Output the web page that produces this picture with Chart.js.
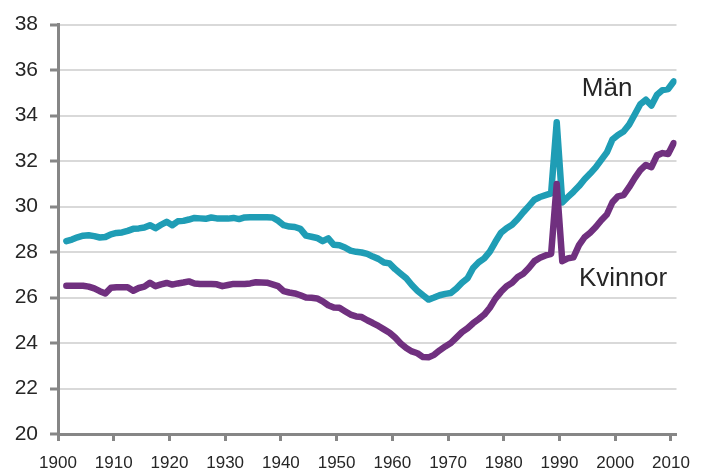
<!DOCTYPE html>
<html>
<head>
<meta charset="utf-8">
<script src="https://cdn.jsdelivr.net/npm/chart.js@4/dist/chart.umd.min.js"></script>
<style>
  html, body { margin: 0; padding: 0; background: #fff; }
  #wrap { width: 702px; height: 472px; }
</style>
</head>
<body>
<div id="wrap"><canvas id="chart" width="702" height="472"></canvas></div>
<script>
const FONT = '"Liberation Sans", Arial, sans-serif';

// yearly mean values 1901-2010
const YEARS = Array.from({ length: 110 }, (_, i) => 1901 + i);
const MAN = [
  28.48, 28.55, 28.65, 28.72, 28.74, 28.70, 28.64, 28.66, 28.78, 28.84,
  28.86, 28.93, 29.02, 29.04, 29.08, 29.18, 29.05, 29.20, 29.33, 29.18,
  29.35, 29.37, 29.43, 29.50, 29.48, 29.46, 29.52, 29.48, 29.47, 29.47,
  29.50, 29.45, 29.52, 29.53, 29.53, 29.53, 29.53, 29.52, 29.38, 29.18,
  29.12, 29.10, 29.02, 28.72, 28.67, 28.62, 28.48, 28.60, 28.32, 28.30,
  28.20, 28.06, 28.01, 27.98, 27.92, 27.80, 27.70, 27.54, 27.50, 27.25,
  27.05, 26.85, 26.55, 26.30, 26.10, 25.91, 26.00, 26.10, 26.16, 26.20,
  26.40, 26.65, 26.85, 27.30, 27.55, 27.72, 28.02, 28.45, 28.85, 29.05,
  29.20, 29.45, 29.75, 30.02, 30.30, 30.42, 30.50, 30.58, 33.71, 30.18,
  30.42, 30.65, 30.90, 31.20, 31.45, 31.72, 32.05, 32.38, 32.95, 33.15,
  33.30, 33.60, 34.05, 34.50, 34.70, 34.44, 34.92, 35.12, 35.17, 35.50
];
const KVINNOR = [
  26.52, 26.52, 26.52, 26.52, 26.48, 26.40, 26.28, 26.18, 26.43, 26.45,
  26.45, 26.45, 26.30, 26.42, 26.48, 26.65, 26.50, 26.58, 26.64, 26.57,
  26.62, 26.66, 26.71, 26.62, 26.60, 26.60, 26.60, 26.58, 26.50, 26.55,
  26.60, 26.60, 26.60, 26.62, 26.67, 26.66, 26.65, 26.58, 26.50, 26.28,
  26.22, 26.18, 26.10, 26.00, 25.99, 25.96, 25.83, 25.66, 25.56, 25.55,
  25.40, 25.25, 25.17, 25.14, 25.00, 24.88, 24.75, 24.60, 24.45, 24.24,
  23.98, 23.78, 23.63, 23.55, 23.38, 23.37, 23.48, 23.68, 23.85, 24.00,
  24.24, 24.48, 24.65, 24.87, 25.05, 25.25, 25.55, 25.95, 26.25, 26.50,
  26.65, 26.90, 27.05, 27.30, 27.60, 27.75, 27.85, 27.92, 30.99, 27.60,
  27.72, 27.77, 28.30, 28.65, 28.85, 29.10, 29.40, 29.65, 30.19, 30.45,
  30.50, 30.85, 31.25, 31.60, 31.83, 31.73, 32.25, 32.35, 32.31, 32.79
];
const X_TICKS = [1900, 1910, 1920, 1930, 1940, 1950, 1960, 1970, 1980, 1990, 2000, 2010];
const Y_TICKS = [20, 22, 24, 26, 28, 30, 32, 34, 36, 38];

// series names written next to the lines (year, value of the text's left baseline)
const SERIES_LABELS = [
  { text: 'Män', year: 1994, value: 34.86 },
  { text: 'Kvinnor', year: 1993.5, value: 26.5 }
];

// each value is plotted mid-year
const toPoints = vals => vals.map((v, i) => ({ x: YEARS[i] + 0.5, y: v }));

const seriesLabels = {
  id: 'seriesLabels',
  afterDatasetsDraw(chart) {
    const { ctx, scales: { x, y } } = chart;
    ctx.save();
    ctx.font = '26px ' + FONT;
    ctx.fillStyle = '#262626';
    ctx.textAlign = 'left';
    ctx.textBaseline = 'alphabetic';
    SERIES_LABELS.forEach(l => ctx.fillText(l.text, x.getPixelForValue(l.year), y.getPixelForValue(l.value)));
    ctx.restore();
  }
};

new Chart(document.getElementById('chart'), {
  type: 'line',
  data: {
    datasets: [
      { label: 'Kvinnor', data: toPoints(KVINNOR), borderColor: '#70307f', order: 0 },
      { label: 'Män', data: toPoints(MAN), borderColor: '#1f9db5', order: 1 }
    ]
  },
  options: {
    responsive: false,
    animation: false,
    devicePixelRatio: 1,
    layout: { padding: { left: 0, right: 17, top: 21, bottom: 0 } },
    elements: {
      line: { borderWidth: 6.5, tension: 0, borderCapStyle: 'round', borderJoinStyle: 'round', fill: false },
      point: { radius: 0, hoverRadius: 0 }
    },
    plugins: { legend: { display: false }, tooltip: { enabled: false } },
    scales: {
      x: {
        type: 'linear',
        min: 1900,
        max: 2011,
        afterBuildTicks: s => { s.ticks = X_TICKS.map(v => ({ value: v })); },
        afterFit: s => { s.height = 38; },
        border: { color: '#868686', width: 3 },
        grid: { drawOnChartArea: false, drawTicks: true, tickLength: 7, tickColor: '#868686', tickWidth: 3 },
        ticks: { color: '#262626', font: { family: FONT, size: 17 }, padding: 12, maxRotation: 0, autoSkip: false,
                 callback: v => String(v) }
      },
      y: {
        min: 20,
        max: 38,
        afterBuildTicks: s => { s.ticks = Y_TICKS.map(v => ({ value: v })); },
        afterFit: s => { s.width = 58; },
        border: { color: '#868686', width: 3 },
        grid: { color: '#d9d9d9', lineWidth: 2, drawTicks: true, tickLength: 8, tickColor: '#868686', tickWidth: 3 },
        ticks: { color: '#262626', font: { family: FONT, size: 21 }, padding: 12 }
      }
    }
  },
  plugins: [seriesLabels]
});
</script>
</body>
</html>
